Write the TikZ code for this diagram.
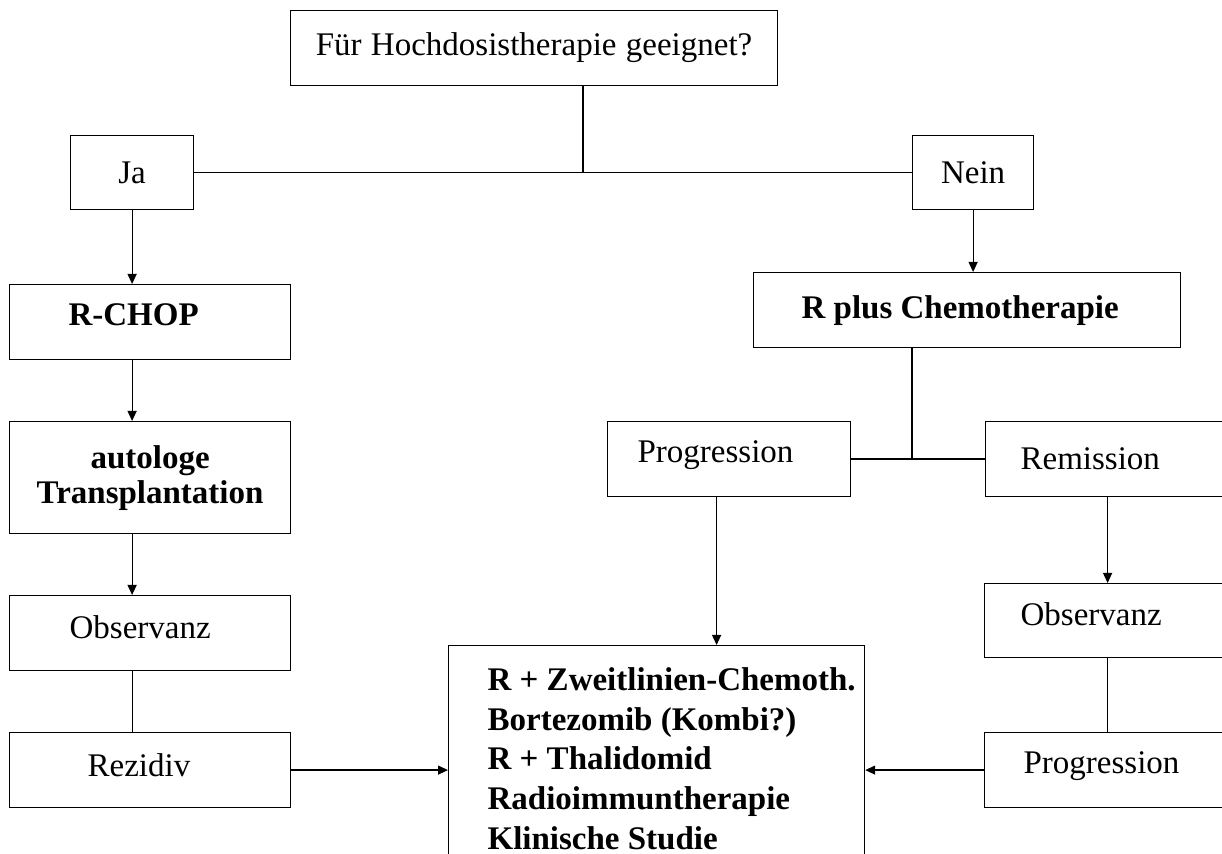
\documentclass[tikz,border=0pt]{standalone}
\usepackage{fontspec}
\setmainfont{Liberation Serif}
\usepackage{tikz}
\usetikzlibrary{arrows.meta}

\begin{document}
\begin{tikzpicture}[
    x=0.5pt, y=-0.5pt,
    line width=0.6pt,
    every node/.style={font=\fontsize{16.5}{19.85}\selectfont},
    box/.style={draw, anchor=north west, inner ysep=0pt, align=left,
        execute at begin node={\spaceskip=0pt\xspaceskip=0pt}},
    fat/.style={font=\fontsize{16.5}{19.85}\selectfont\bfseries},
    >={Triangle[length=5pt, width=4.5pt]}
]
\useasboundingbox (0,0) rectangle (1222,854);
\clip (0,0) rectangle (1222,854);

% Nodes
\node[box, align=center, inner xsep=4pt, text width=235.5pt, minimum height=37.5pt] (frage) at (290,10) {Für Hochdosistherapie geeignet?};
\node[box, align=center, inner xsep=4pt, text width=53.5pt, minimum height=37pt] (ja) at (70,135) {Ja};
\node[box, align=center, inner xsep=4pt, text width=52.5pt, minimum height=37pt] (nein) at (912,135) {Nein};

\node[box, fat, inner xsep=29.5pt, text width=81.5pt, minimum height=37.5pt, text depth=7.5pt] (rchop) at (9,284) {R-CHOP};
\node[box, align=center, font=\fontsize{16.5}{17.5}\selectfont\bfseries, inner xsep=5pt, text width=130.5pt, minimum height=56pt] (auto) at (9,421) {autologe\\Transplantation};
\node[box, inner xsep=30pt, text width=80.5pt, minimum height=37.5pt, text depth=6pt] (obsl) at (9,595) {Observanz};
\node[box, inner xsep=39pt, text width=62.5pt, minimum height=37.5pt, text depth=5.5pt] (rezidiv) at (9,732) {Rezidiv};

\node[box, fat, inner xsep=24pt, text width=165.5pt, minimum height=37.5pt] (rchemo) at (753,272) {R plus Chemotherapie};
\node[box, inner xsep=15pt, text width=91.5pt, minimum height=37.5pt, text depth=7.6pt] (prog) at (607,421) {Progression};
\node[box, inner xsep=17.5pt, text width=87pt, minimum height=37.5pt] (remis) at (985,421) {Remission};
\node[box, inner xsep=18pt, text width=86pt, minimum height=37pt, text depth=7pt] (obsr) at (984,583) {Observanz};
\node[box, inner xsep=19.5pt, text width=83pt, minimum height=37.5pt, text depth=7.6pt] (prog2) at (984,732) {Progression};

\node[box, fat, inner xsep=19.5pt, inner ysep=11pt, text width=169pt] (therapie) at (448,645) {\mbox{R + Zweitlinien-Chemoth.}\\ Bortezomib (Kombi?)\\ R + Thalidomid\\ Radioimmuntherapie\\ Klinische Studie};

% Edges
\coordinate (gabel) at (583,172);
\draw (frage.south -| gabel) -- (gabel);
\draw (ja.east) -- (nein.west);

\draw[->] (ja.south) -- (rchop.north -| ja.south);
\draw[->] (rchop.south -| ja.south) -- (auto.north -| ja.south);
\draw[->] (auto.south -| ja.south) -- (obsl.north -| ja.south);
\draw (obsl.south -| ja.south) -- (rezidiv.north -| ja.south);
\draw[->] (rezidiv.east) -- (rezidiv.east -| therapie.west);

\draw[->] (nein.south) -- (rchemo.north -| nein.south);
\coordinate (weiche) at (912,458.5);
\draw (rchemo.south -| weiche) -- (weiche);
\draw (prog.east) -- (remis.west);
\coordinate (pd) at ([xshift=-6.25pt]prog.south);
\draw[->] (pd) -- (therapie.north -| pd);

\draw[->] (remis.south) -- (obsr.north -| remis.south);
\draw (obsr.south -| remis.south) -- (prog2.north -| remis.south);
\draw[->] (prog2.west) -- (prog2.west -| therapie.east);

\end{tikzpicture}
\end{document}
